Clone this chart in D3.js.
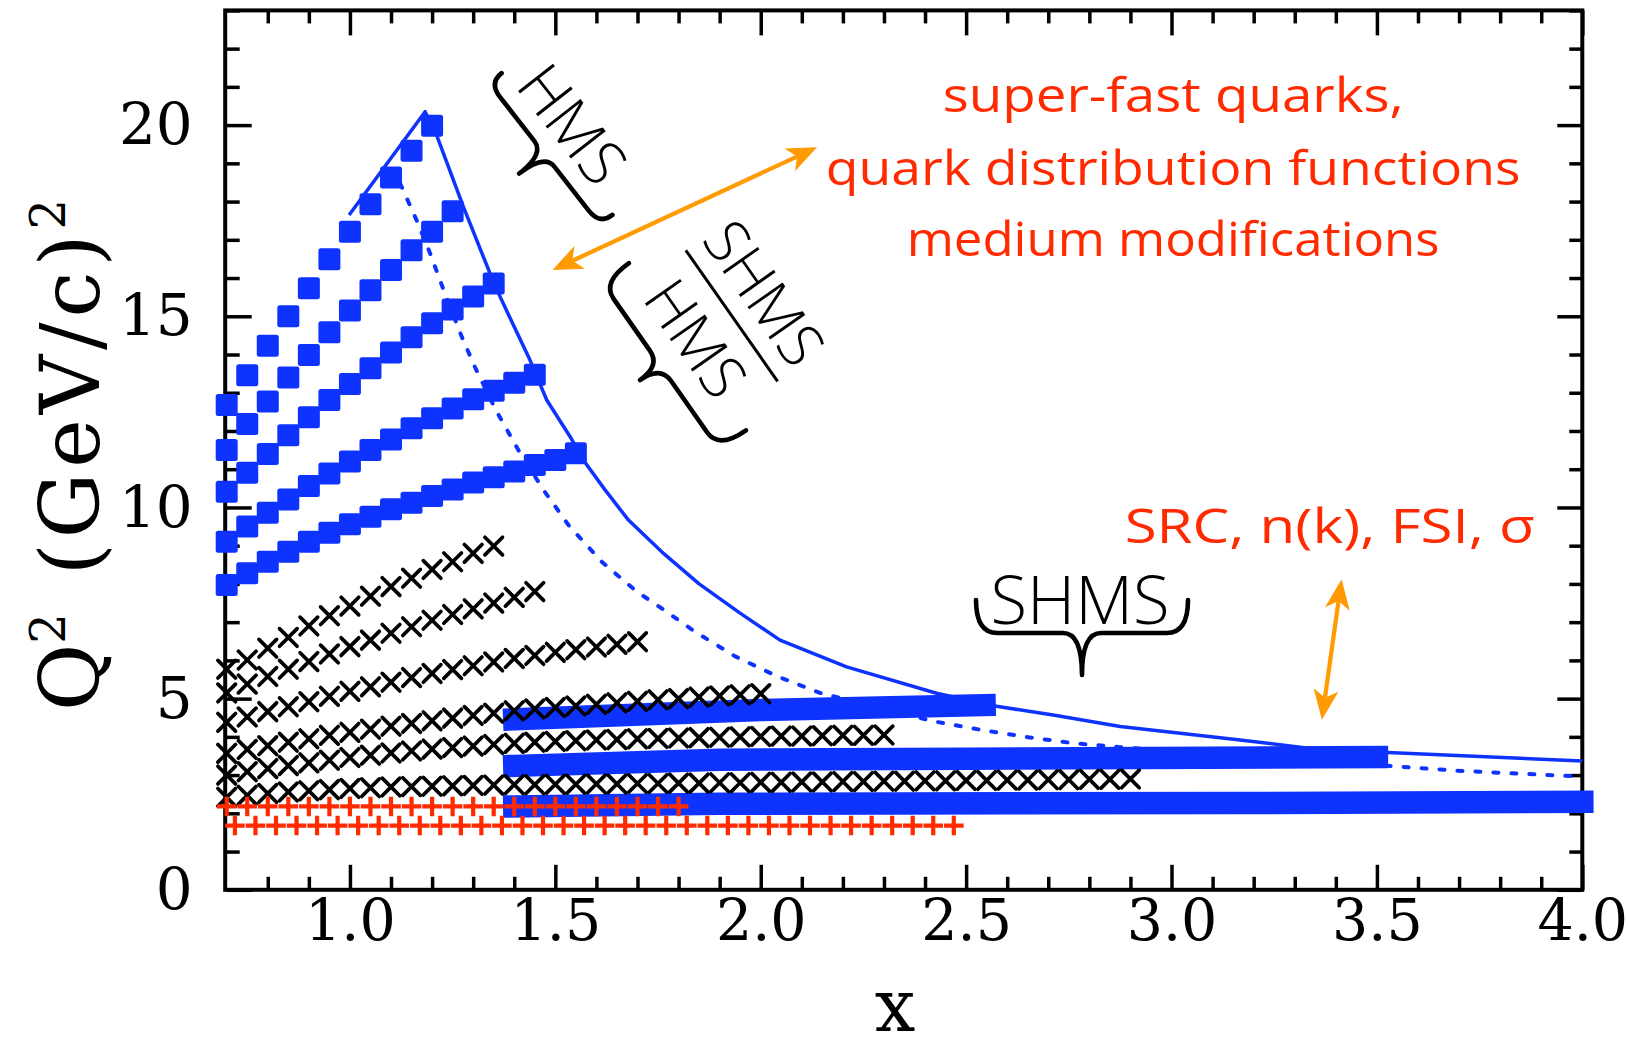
<!DOCTYPE html>
<html><head><meta charset="utf-8">
<script src="https://cdn.jsdelivr.net/npm/d3@7"></script>
<style>html,body{margin:0;padding:0;background:#fff;} svg{display:block;}</style>
</head><body>
<svg id="chart" width="1628" height="1048"></svg>
<script>
// ---------------- data ----------------
const xTickValues = [1.0, 1.5, 2.0, 2.5, 3.0, 3.5, 4.0];
const xTickLabels = ["1.0", "1.5", "2.0", "2.5", "3.0", "3.5", "4.0"];
const yTickValues = [0, 5, 10, 15, 20];
const yTickLabels = ["0", "5", "10", "15", "20"];

// HMS high-Q2 settings (blue squares)
const hmsRow1 = [[0.70,12.68],[0.75,13.46],[0.80,14.23],[0.85,15.00],[0.90,15.73],[0.95,16.49],[1.00,17.21],[1.05,17.93],[1.10,18.63],[1.15,19.33],[1.20,19.98]];
const hmsRow2 = [[0.70,11.50],[0.75,12.18],[0.80,12.77],[0.85,13.40],[0.90,13.99],[0.95,14.58],[1.00,15.15],[1.05,15.68],[1.10,16.21],[1.15,16.73],[1.20,17.21],[1.25,17.75]];
const hmsRow3 = [[0.70,10.41],[0.75,10.91],[0.80,11.40],[0.85,11.89],[0.90,12.36],[0.95,12.81],[1.00,13.23],[1.05,13.64],[1.10,14.05],[1.15,14.45],[1.20,14.82],[1.25,15.18],[1.30,15.52],[1.35,15.86]];
const hmsRow4 = [[0.70,9.10],[0.75,9.50],[0.80,9.86],[0.85,10.21],[0.90,10.56],[0.95,10.89],[1.00,11.20],[1.05,11.50],[1.10,11.78],[1.15,12.07],[1.20,12.33],[1.25,12.59],[1.30,12.83],[1.35,13.05],[1.40,13.26],[1.45,13.47]];
const hmsRow5 = [[0.70,7.97],[0.75,8.28],[0.80,8.58],[0.85,8.84],[0.90,9.10],[0.95,9.34],[1.00,9.56],[1.05,9.76],[1.10,9.95],[1.15,10.12],[1.20,10.30],[1.25,10.47],[1.30,10.65],[1.35,10.79],[1.40,10.94],[1.45,11.11],[1.50,11.24],[1.55,11.42]];

// SHMS dense settings (thick blue bands)
const shmsBand1 = [[1.40,4.46],[2.00,4.70],[2.545,4.83]];
const shmsBand2 = [[1.40,3.24],[1.90,3.40],[2.50,3.43],[3.50,3.47]];
const shmsBand3 = [[1.40,2.18],[1.90,2.25],[3.17,2.27],[4.00,2.30]];

// 6 GeV-era data (black crosses)
const xRowA = [[0.70,5.77],[0.75,6.01],[0.80,6.32],[0.85,6.60],[0.90,6.90],[0.95,7.17],[1.00,7.42],[1.05,7.68],[1.10,7.93],[1.15,8.15],[1.20,8.38],[1.25,8.58],[1.30,8.80],[1.35,8.99]];
const xRowB = [[0.70,5.15],[0.75,5.38],[0.80,5.58],[0.85,5.77],[0.90,5.97],[0.95,6.17],[1.00,6.36],[1.05,6.53],[1.10,6.71],[1.15,6.88],[1.20,7.05],[1.25,7.20],[1.30,7.35],[1.35,7.50],[1.40,7.65],[1.45,7.80]];
const xRowC = [[0.70,4.38],[0.75,4.52],[0.80,4.66],[0.85,4.79],[0.90,4.92],[0.95,5.06],[1.00,5.19],[1.05,5.31],[1.10,5.43],[1.15,5.55],[1.20,5.66],[1.25,5.76],[1.30,5.86],[1.35,5.96],[1.40,6.05],[1.45,6.13],[1.50,6.21],[1.55,6.28],[1.60,6.35],[1.65,6.42],[1.70,6.49]];
const xRowD = [[0.70,3.57],[0.75,3.67],[0.80,3.77],[0.85,3.86],[0.90,3.95],[0.95,4.04],[1.00,4.12],[1.05,4.20],[1.10,4.28],[1.15,4.35],[1.20,4.42],[1.25,4.49],[1.30,4.56],[1.35,4.62],[1.40,4.68],[1.45,4.73],[1.50,4.77],[1.55,4.81],[1.60,4.85],[1.65,4.89],[1.70,4.93],[1.75,4.97],[1.80,5.00],[1.85,5.04],[1.90,5.07],[1.95,5.10],[2.00,5.13]];
const xRowE = [[0.70,3.00],[0.75,3.09],[0.80,3.17],[0.85,3.25],[0.90,3.32],[0.95,3.39],[1.00,3.46],[1.05,3.52],[1.10,3.58],[1.15,3.63],[1.20,3.68],[1.25,3.72],[1.30,3.76],[1.35,3.80],[1.40,3.83],[1.45,3.86],[1.50,3.88],[1.55,3.90],[1.60,3.92],[1.65,3.93],[1.70,3.95],[1.75,3.96],[1.80,3.97],[1.85,3.98],[1.90,3.99],[1.95,4.00],[2.00,4.01],[2.05,4.02],[2.10,4.02],[2.15,4.03],[2.20,4.04],[2.25,4.04],[2.30,4.05]];
const xRowF = [[0.70,2.42],[0.75,2.47],[0.80,2.52],[0.85,2.56],[0.90,2.59],[0.95,2.62],[1.00,2.65],[1.05,2.67],[1.10,2.69],[1.15,2.70],[1.20,2.71],[1.25,2.72],[1.30,2.73],[1.35,2.74],[1.40,2.75],[1.45,2.75],[1.50,2.76],[1.55,2.76],[1.60,2.77],[1.65,2.77],[1.70,2.78],[1.75,2.78],[1.80,2.79],[1.85,2.79],[1.90,2.80],[1.95,2.80],[2.00,2.81],[2.05,2.81],[2.10,2.82],[2.15,2.82],[2.20,2.83],[2.25,2.83],[2.30,2.84],[2.35,2.84],[2.40,2.85],[2.45,2.85],[2.50,2.86],[2.55,2.86],[2.60,2.87],[2.65,2.87],[2.70,2.88],[2.75,2.88],[2.80,2.89],[2.85,2.89],[2.90,2.90]];

// low-Q2 data (red pluses)
const plusUpperX = [0.70,0.75,0.80,0.85,0.90,0.95,1.00,1.05,1.10,1.15,1.20,1.25,1.30,1.35,1.40,1.45,1.50,1.55,1.60,1.65,1.70,1.75,1.80];
const plusUpperQ2 = 2.18;
const plusLowerX = [0.72,0.77,0.82,0.87,0.92,0.97,1.02,1.07,1.12,1.17,1.22,1.27,1.32,1.37,1.42,1.47,1.52,1.57,1.62,1.67,1.72,1.77,1.82,1.87,1.92,1.97,2.02,2.07,2.12,2.17,2.22,2.27,2.32,2.37,2.42,2.47];
const plusLowerQ2 = 1.68;

// kinematic limits (solid / dotted blue curves)
const limitSolid = [[0.998,17.65],[1.183,20.35],[1.211,19.74],[1.276,17.87],[1.341,16.12],[1.369,15.43],[1.438,13.86],[1.479,12.81],[1.536,11.85],[1.568,11.24],[1.621,10.46],[1.678,9.67],[1.759,8.84],[1.850,8.00],[1.948,7.25],[2.047,6.53],[2.209,5.83],[2.428,5.14],[2.574,4.80],[2.712,4.57],[2.875,4.27],[3.167,3.92],[3.358,3.67],[4.00,3.37]];
const limitDotted = [[1.122,18.48],[1.162,17.52],[1.195,16.65],[1.231,15.60],[1.272,14.47],[1.304,13.68],[1.353,12.59],[1.41,11.50],[1.471,10.46],[1.532,9.54],[1.613,8.58],[1.698,7.80],[1.747,7.45],[1.840,6.75],[1.937,6.11],[2.039,5.59],[2.144,5.15],[2.424,4.40],[2.538,4.18],[2.651,3.99],[2.765,3.83],[2.875,3.73],[3.687,3.12],[4.00,2.96]];

// annotations
const physicsLines = ["super-fast quarks,", "quark distribution functions", "medium modifications"];
const srcLabel = "SRC, n(k), FSI, σ";

// ---------------- drawing ----------------
const blue = "#0f33ff", red = "#ff2a00", orange = "#ff9a00";
const svg = d3.select("#chart");
const L = 226.7, R = 1582.3, T = 10.4, B = 889.8;
const x = d3.scaleLinear().domain([0.7, 4.0]).range([L, R]);
const y = d3.scaleLinear().domain([0, 23]).range([B, T]);

const serif = "'DejaVu Serif', serif";
const hand = "'Open Sans', sans-serif";

// axes (inward ticks on all sides)
const xMinor = d3.range(8, 40).map(v => v / 10).filter(v => Math.abs(v * 2 - Math.round(v * 2)) > 1e-6);
const yMinor = d3.range(1, 24).filter(v => v % 5 !== 0);
const MAJ = 25, MIN = 13;

function styleAxis(g) {
  g.select(".domain").remove();
  g.selectAll(".tick line").attr("stroke", "#000").attr("stroke-width", 3.5);
}
svg.append("g").attr("transform", `translate(0,${B})`)
  .call(d3.axisBottom(x).tickValues(xTickValues).tickFormat((d, i) => xTickLabels[i]).tickSizeInner(-MAJ).tickSizeOuter(0).tickPadding(10))
  .call(styleAxis)
  .call(g => g.selectAll("text").attr("font-family", serif).attr("font-size", 57).attr("fill", "#000"));
svg.append("g").attr("transform", `translate(0,${B})`)
  .call(d3.axisBottom(x).tickValues(xMinor).tickFormat("").tickSizeInner(-MIN).tickSizeOuter(0)).call(styleAxis);
svg.append("g").attr("transform", `translate(0,${T})`)
  .call(d3.axisTop(x).tickValues(xTickValues).tickFormat("").tickSizeInner(-MAJ).tickSizeOuter(0)).call(styleAxis);
svg.append("g").attr("transform", `translate(0,${T})`)
  .call(d3.axisTop(x).tickValues(xMinor).tickFormat("").tickSizeInner(-MIN).tickSizeOuter(0)).call(styleAxis);
svg.append("g").attr("transform", `translate(${L},0)`)
  .call(d3.axisLeft(y).tickValues(yTickValues).tickFormat((d, i) => yTickLabels[i]).tickSizeInner(-MAJ).tickSizeOuter(0).tickPadding(34))
  .call(styleAxis)
  .call(g => g.selectAll("text").attr("font-family", serif).attr("font-size", 58).attr("fill", "#000"));
svg.append("g").attr("transform", `translate(${L},0)`)
  .call(d3.axisLeft(y).tickValues(yMinor).tickFormat("").tickSizeInner(-MIN).tickSizeOuter(0)).call(styleAxis);
svg.append("g").attr("transform", `translate(${R},0)`)
  .call(d3.axisRight(y).tickValues(yTickValues).tickFormat("").tickSizeInner(-MAJ).tickSizeOuter(0)).call(styleAxis);
svg.append("g").attr("transform", `translate(${R},0)`)
  .call(d3.axisRight(y).tickValues(yMinor).tickFormat("").tickSizeInner(-MIN).tickSizeOuter(0)).call(styleAxis);

svg.append("rect").attr("x", L - 1.5).attr("y", T).attr("width", R - L + 1.5).attr("height", B - T)
  .attr("fill", "none").attr("stroke", "#000").attr("stroke-width", 4);

// axis titles
const yl = svg.append("text").attr("transform", `translate(99,455) rotate(-90)`)
  .attr("text-anchor", "middle").attr("font-family", serif).attr("font-size", 82).attr("fill", "#000");
yl.append("tspan").text("Q");
yl.append("tspan").attr("font-size", 48).attr("dy", -34).text("2");
yl.append("tspan").attr("dx", 38).attr("dy", 34).attr("letter-spacing", 5).text("(GeV/c)");
yl.append("tspan").attr("font-size", 48).attr("dy", -34).text("2");

svg.append("text").attr("x", 895).attr("y", 1031).attr("text-anchor", "middle")
  .attr("font-family", serif).attr("font-size", 72).attr("fill", "#000").text("x");

// curves
const lineStraight = d3.line().x(d => x(d[0])).y(d => y(d[1]));
svg.append("path").datum(limitSolid).attr("d", lineStraight).attr("fill", "none")
  .attr("stroke", blue).attr("stroke-width", 3.5).attr("stroke-linejoin", "round");
svg.append("path").datum(limitDotted).attr("d", lineStraight).attr("fill", "none")
  .attr("stroke", blue).attr("stroke-width", 4).attr("stroke-dasharray", "5,13").attr("stroke-linecap", "round");

// blue squares
const SQ = 22;
[hmsRow1, hmsRow2, hmsRow3, hmsRow4, hmsRow5].forEach(row => {
  svg.append("g").selectAll("rect").data(row).join("rect")
    .attr("x", d => x(d[0]) - SQ / 2).attr("y", d => y(d[1]) - SQ / 2)
    .attr("width", SQ).attr("height", SQ).attr("rx", 2.5).attr("fill", blue);
});
// thick bands
[shmsBand1, shmsBand2, shmsBand3].forEach(band => {
  svg.append("path").datum(band).attr("d", lineStraight).attr("fill", "none")
    .attr("stroke", blue).attr("stroke-width", 22.5).attr("stroke-linecap", "square").attr("stroke-linejoin", "round");
});

// black crosses
const XS = 8.8;
[xRowA, xRowB, xRowC, xRowD, xRowE, xRowF].forEach(row => {
  svg.append("g").selectAll("path").data(row).join("path")
    .attr("d", d => { const cx = x(d[0]), cy = y(d[1]);
      return `M${cx - XS},${cy - XS}L${cx + XS},${cy + XS}M${cx - XS},${cy + XS}L${cx + XS},${cy - XS}`; })
    .attr("stroke", "#000").attr("stroke-width", 3.7).attr("stroke-linecap", "round").attr("fill", "none");
});

// red pluses
const PS = 9.8;
[[plusUpperX, plusUpperQ2], [plusLowerX, plusLowerQ2]].forEach(([xs, q]) => {
  svg.append("g").selectAll("path").data(xs).join("path")
    .attr("d", d => { const cx = x(d), cy = y(q);
      return `M${cx - PS},${cy}H${cx + PS}M${cx},${cy - PS}V${cy + PS}`; })
    .attr("stroke", red).attr("stroke-width", 4.2).attr("fill", "none");
});

// orange double arrows
function dblArrow(x1, y1, x2, y2) {
  const g = svg.append("g");
  const dx = x2 - x1, dy = y2 - y1, len = Math.hypot(dx, dy);
  const ux = dx / len, uy = dy / len;
  const HL = 30, HW = 12.5, NO = 8;
  g.append("line").attr("x1", x1 + ux * (HL - NO)).attr("y1", y1 + uy * (HL - NO))
    .attr("x2", x2 - ux * (HL - NO)).attr("y2", y2 - uy * (HL - NO))
    .attr("stroke", orange).attr("stroke-width", 4.2);
  const head = (tx, ty, sx, sy) => {
    const bx = tx - sx * HL, by = ty - sy * HL;
    const nx = tx - sx * (HL - NO), ny = ty - sy * (HL - NO);
    return `M${tx},${ty}L${bx + (-sy) * HW},${by + sx * HW}L${nx},${ny}L${bx - (-sy) * HW},${by - sx * HW}Z`;
  };
  g.append("path").attr("d", head(x2, y2, ux, uy)).attr("fill", orange);
  g.append("path").attr("d", head(x1, y1, -ux, -uy)).attr("fill", orange);
}
dblArrow(x(1.493), y(16.21), x(2.137), y(19.42));
dblArrow(x(3.366), y(4.45), x(3.414), y(8.12));

// red physics text
const phys = svg.append("g").attr("font-family", hand).attr("font-size", 47).attr("font-weight", 500)
  .attr("fill", red).attr("text-anchor", "middle");
const physBase = [20.34, 18.43, 16.57];
const physLen = [461, 695, 533];
physicsLines.forEach((t, i) => {
  phys.append("text").attr("x", x(3.004)).attr("y", y(physBase[i]))
    .attr("textLength", physLen[i]).attr("lengthAdjust", "spacingAndGlyphs").text(t);
});
phys.append("text").attr("x", x(3.385)).attr("y", y(9.07))
  .attr("textLength", 410).attr("lengthAdjust", "spacingAndGlyphs").text(srcLabel);

// hand-drawn braces and spectrometer labels
function bracePath(w, b, t) {
  const h = w / 2, r = Math.min(w * 0.1, 22), c = w * 0.09;
  return `M${-h},0 Q${-h},${b} ${-h + r},${b} L${-c},${b} Q0,${b} 0,${t} Q0,${b} ${c},${b} L${h - r},${b} Q${h},${b} ${h},0`;
}
function braceStyle(p) {
  return p.attr("fill", "none").attr("stroke", "#000").attr("stroke-width", 4.6)
    .attr("stroke-linecap", "round").attr("stroke-linejoin", "round");
}
// HMS (rotated)
const g1 = svg.append("g").attr("transform", "translate(557,144) rotate(52)");
braceStyle(g1.append("path").attr("d", bracePath(180, 16, 48)));
g1.append("text").attr("x", -6).attr("y", -2).attr("text-anchor", "middle")
  .attr("font-family", hand).attr("font-weight", 300).attr("font-size", 62).attr("fill", "#000").text("HMS");

// SHMS / HMS fraction (rotated)
const g2 = svg.append("g").attr("transform", "translate(731.7,315.8) rotate(55)");
g2.append("line").attr("x1", -80).attr("x2", 80).attr("y1", 0).attr("y2", 0).attr("stroke", "#000").attr("stroke-width", 3);
g2.append("text").attr("x", 0).attr("y", -18).attr("text-anchor", "middle")
  .attr("font-family", hand).attr("font-weight", 300).attr("font-size", 60).attr("fill", "#000").text("SHMS");
g2.append("text").attr("x", -2).attr("y", 64).attr("text-anchor", "middle")
  .attr("font-family", hand).attr("font-weight", 300).attr("font-size", 60).attr("fill", "#000").text("HMS");
const g2b = g2.append("g").attr("transform", "translate(0,54)");
braceStyle(g2b.append("path").attr("d", bracePath(204, 33, 58)));

// SHMS (horizontal)
const g3 = svg.append("g").attr("transform", "translate(1082,600)");
braceStyle(g3.append("path").attr("d", bracePath(212, 33, 75)));
g3.append("text").attr("x", -2).attr("y", 24).attr("text-anchor", "middle")
  .attr("font-family", hand).attr("font-weight", 300).attr("font-size", 67).attr("fill", "#000").text("SHMS");
</script>
</body></html>
